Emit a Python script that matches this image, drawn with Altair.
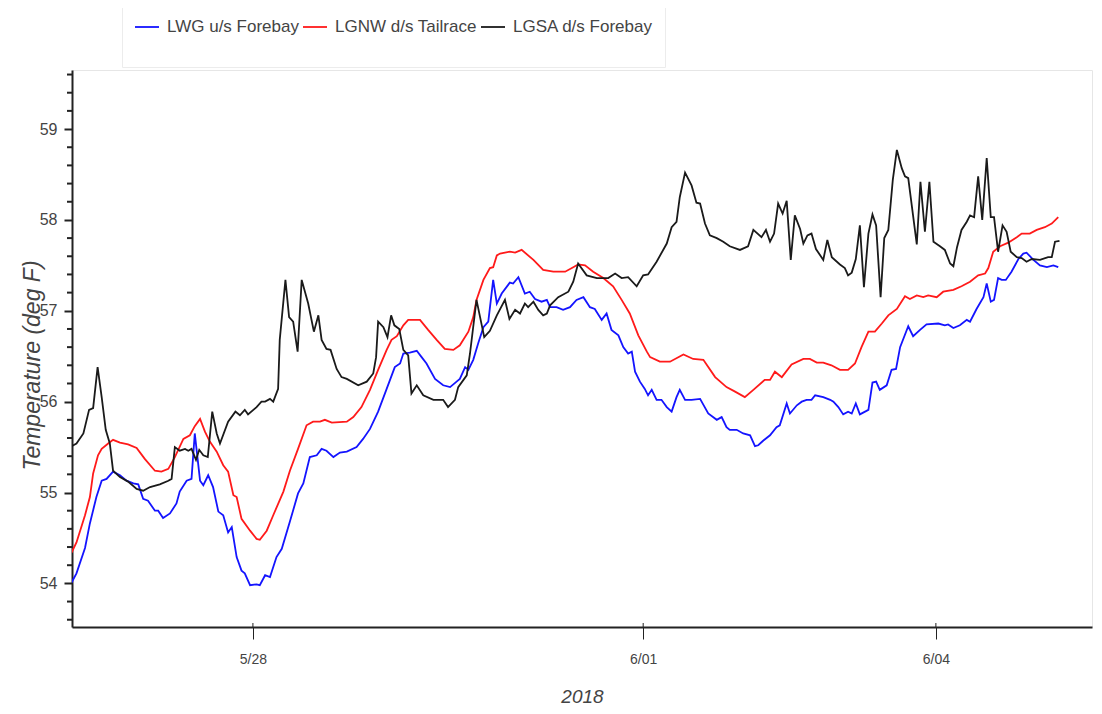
import altair as alt
import pandas as pd

# ---- data (hours after 2018-05-28 00:00, temperature deg F) ----
lwg_hours = [-44.6, -43.4, -41.3, -40.1, -38.5, -37.2, -36.0, -34.4, -32.7, -31.1, -29.4, -28.2, -27.0, -25.8,
             -24.1, -23.3, -22.1, -20.4, -18.8, -18.0, -16.3, -15.1, -14.3, -13.0, -12.2, -11.0, -9.8, -8.5,
             -7.3, -6.1, -5.2, -4.0, -2.8, -2.0, -0.7, 0.9, 1.7, 3.0, 4.2, 5.8, 7.1, 9.1, 11.1, 12.4, 14.0,
             15.7, 16.9, 18.1, 19.8, 21.4, 23.1, 25.5, 27.1, 28.8, 30.8, 32.9, 34.9, 36.2, 37.0, 38.6, 40.3,
             41.5, 42.7, 44.8, 46.8, 48.5, 50.1, 50.9, 52.2, 53.0, 54.2, 55.4, 56.7, 57.9, 59.1, 60.0, 61.2,
             63.2, 64.0, 65.3, 66.9, 68.1, 69.4, 71.0, 72.3, 73.1, 74.7, 76.3, 78.0, 79.6, 81.3, 82.9, 84.1,
             85.8, 87.0, 88.2, 89.9, 91.1, 92.3, 93.2, 94.0, 95.2, 96.4, 97.2, 98.1, 99.3, 100.5, 101.8,
             103.0, 104.2, 105.0, 106.3, 107.9, 110.0, 112.0, 114.1, 115.3, 116.5, 117.3, 119.0, 120.6,
             122.3, 123.5, 124.3, 125.5, 127.2, 128.8, 129.6, 131.3, 132.1, 133.8, 135.0, 136.2, 137.4,
             138.3, 140.3, 142.0, 142.8, 144.0, 145.2, 146.4, 147.3, 148.3, 149.3, 151.4, 152.4, 153.3,
             154.2, 155.9, 157.1, 158.2, 159.2, 161.2, 162.4, 164.1, 165.7, 168.6, 170.2, 171.0, 172.3,
             173.9, 175.6, 176.4, 178.0, 179.7, 180.5, 181.5, 182.3, 183.3, 184.2, 185.2, 186.6, 188.3,
             189.5, 190.3, 192.0, 193.6, 195.3, 196.9, 198.1]
lwg_temp = [54.01, 54.11, 54.39, 54.66, 54.95, 55.13, 55.15, 55.23, 55.19, 55.13, 55.10, 55.09, 54.93, 54.91,
            54.80, 54.80, 54.72, 54.77, 54.88, 55.01, 55.13, 55.15, 55.65, 55.13, 55.08, 55.19, 55.06, 54.79,
            54.75, 54.56, 54.62, 54.29, 54.14, 54.11, 53.98, 53.99, 53.98, 54.09, 54.07, 54.29, 54.38, 54.68,
            54.99, 55.10, 55.39, 55.41, 55.48, 55.46, 55.39, 55.44, 55.45, 55.50, 55.59, 55.70, 55.89, 56.14,
            56.38, 56.42, 56.53, 56.54, 56.56, 56.49, 56.42, 56.25, 56.18, 56.16, 56.22, 56.25, 56.38, 56.35,
            56.46, 56.64, 56.82, 56.88, 57.34, 57.08, 57.19, 57.31, 57.30, 57.37, 57.19, 57.21, 57.13, 57.10,
            57.12, 57.04, 57.04, 57.01, 57.04, 57.12, 57.15, 57.04, 57.02, 56.90, 56.97, 56.79, 56.73, 56.60,
            56.53, 56.55, 56.33, 56.22, 56.14, 56.07, 56.13, 56.02, 56.02, 55.94, 55.89, 56.05, 56.13, 56.02,
            56.02, 56.03, 55.87, 55.80, 55.83, 55.72, 55.69, 55.69, 55.65, 55.63, 55.51, 55.52, 55.57, 55.63,
            55.72, 55.74, 55.98, 55.87, 55.96, 56.00, 56.02, 56.02, 56.07, 56.05, 56.02, 56.00, 55.94, 55.86,
            55.89, 55.87, 55.98, 55.86, 55.91, 56.21, 56.22, 56.13, 56.18, 56.35, 56.36, 56.60, 56.83, 56.72,
            56.79, 56.85, 56.86, 56.84, 56.85, 56.81, 56.84, 56.90, 56.88, 57.02, 57.15, 57.30, 57.10, 57.12,
            57.36, 57.34, 57.34, 57.43, 57.57, 57.63, 57.64, 57.56, 57.50, 57.48, 57.50, 57.48]

lgnw_hours = [-44.6, -43.4, -41.3, -40.1, -39.3, -38.1, -37.2, -35.6, -34.4, -32.7, -30.7, -28.6, -26.6, -24.1,
              -22.5, -20.8, -19.2, -17.1, -15.5, -14.3, -13.0, -11.8, -10.6, -8.9, -7.3, -6.1, -4.8, -4.0,
              -2.8, -0.7, 0.9, 1.7, 3.4, 5.0, 7.5, 9.1, 11.1, 13.2, 14.8, 16.5, 17.7, 19.4, 23.1, 24.7, 26.7,
              28.8, 30.8, 32.9, 34.1, 35.4, 37.0, 38.2, 41.1, 43.1, 45.2, 47.2, 49.3, 50.9, 53.0, 54.2, 55.0,
              56.7, 58.3, 59.1, 60.0, 60.8, 63.2, 64.5, 66.1, 69.0, 71.4, 73.9, 76.8, 78.8, 80.0, 81.7, 83.7,
              86.2, 88.6, 90.7, 92.7, 94.8, 96.9, 97.7, 100.1, 102.6, 105.9, 108.3, 110.8, 113.7, 116.5, 118.6,
              121.0, 123.1, 125.9, 127.2, 128.4, 130.1, 132.5, 135.4, 137.0, 138.7, 140.3, 142.3, 144.4, 146.4,
              148.1, 149.7, 151.4, 153.0, 154.7, 156.3, 158.4, 160.4, 161.6, 163.3, 164.9, 166.1, 168.2, 169.8,
              172.3, 174.3, 176.4, 178.4, 180.1, 180.9, 182.1, 183.8, 185.8, 187.9, 189.1, 191.1, 192.8, 194.8,
              196.5, 198.1]
lgnw_temp = [54.34, 54.45, 54.75, 54.95, 55.21, 55.41, 55.48, 55.54, 55.58, 55.55, 55.53, 55.49, 55.37, 55.24,
             55.23, 55.26, 55.39, 55.59, 55.63, 55.73, 55.81, 55.67, 55.56, 55.45, 55.30, 55.23, 54.97, 54.95,
             54.71, 54.58, 54.49, 54.48, 54.58, 54.75, 55.01, 55.24, 55.48, 55.74, 55.78, 55.78, 55.80, 55.77,
             55.78, 55.83, 55.94, 56.13, 56.35, 56.57, 56.68, 56.72, 56.84, 56.90, 56.90, 56.79, 56.68, 56.58,
             56.57, 56.62, 56.77, 56.93, 57.12, 57.34, 57.47, 57.48, 57.61, 57.63, 57.65, 57.64, 57.67, 57.56,
             57.45, 57.43, 57.43, 57.48, 57.51, 57.50, 57.43, 57.36, 57.27, 57.12, 56.97, 56.73, 56.55, 56.49,
             56.44, 56.44, 56.52, 56.47, 56.46, 56.27, 56.16, 56.11, 56.05, 56.13, 56.24, 56.24, 56.33, 56.27,
             56.41, 56.47, 56.47, 56.43, 56.43, 56.40, 56.35, 56.35, 56.42, 56.60, 56.77, 56.77, 56.86, 56.95,
             57.02, 57.16, 57.13, 57.17, 57.15, 57.17, 57.15, 57.21, 57.23, 57.27, 57.32, 57.39, 57.41, 57.47,
             57.65, 57.71, 57.75, 57.81, 57.85, 57.85, 57.89, 57.92, 57.96, 58.03]

lgsa_hours = [-44.6, -43.4, -41.7, -40.3, -39.3, -38.2, -37.2, -36.2, -35.2, -34.4, -32.7, -30.7, -28.6, -27.0,
              -25.3, -22.9, -20.8, -20.0, -19.2, -18.0, -16.7, -15.9, -15.1, -14.0, -13.2, -12.2, -11.1, -10.0,
              -8.9, -8.1, -6.1, -4.3, -3.2, -2.0, -1.2, 0.9, 2.1, 3.0, 4.2, 5.0, 6.2, 6.6, 8.0, 8.9, 9.9, 11.0,
              12.0, 13.6, 15.0, 16.1, 16.9, 18.1, 19.1, 20.6, 21.8, 23.1, 25.9, 28.0, 29.6, 30.3, 30.8, 32.1,
              33.1, 34.0, 34.8, 36.0, 37.0, 38.2, 39.0, 40.3, 41.9, 44.4, 46.8, 48.0, 49.7, 50.5, 52.6, 53.4,
              55.0, 56.9, 58.3, 60.0, 62.0, 63.1, 64.5, 65.7, 66.9, 67.7, 69.0, 70.2, 71.4, 72.3, 73.1, 75.1,
              77.6, 78.8, 80.0, 82.1, 84.6, 87.4, 89.1, 90.7, 92.3, 94.4, 96.0, 97.2, 99.3, 101.8, 103.0, 104.2,
              105.0, 106.3, 107.9, 109.1, 110.0, 111.2, 112.4, 114.1, 115.7, 117.3, 119.8, 121.8, 123.1, 125.1,
              126.2, 127.2, 128.2, 129.2, 130.3, 131.3, 132.3, 133.3, 134.6, 135.4, 136.4, 137.4, 138.5, 140.3,
              141.3, 142.4, 144.4, 145.6, 146.4, 147.3, 148.3, 149.3, 150.3, 151.4, 152.4, 153.3, 154.4, 155.3,
              156.3, 157.4, 158.4, 159.6, 160.4, 161.2, 163.3, 164.2, 165.3, 166.4, 167.4, 169.0, 170.2, 171.5,
              172.3, 173.2, 174.3, 175.6, 176.4, 177.4, 178.4, 179.4, 180.5, 181.5, 182.3, 183.3, 184.4, 185.4,
              186.4, 187.9, 189.1, 190.3, 191.6, 193.6, 195.6, 196.5, 197.3, 198.4]
lgsa_temp = [55.51, 55.54, 55.65, 55.91, 55.93, 56.38, 56.05, 55.69, 55.54, 55.24, 55.17, 55.12, 55.04, 55.02,
             55.06, 55.09, 55.13, 55.15, 55.50, 55.46, 55.48, 55.46, 55.48, 55.36, 55.47, 55.41, 55.39, 55.89,
             55.65, 55.54, 55.78, 55.89, 55.85, 55.91, 55.86, 55.94, 56.00, 56.00, 56.03, 56.00, 56.14, 56.68,
             57.34, 56.93, 56.88, 56.55, 57.34, 57.08, 56.77, 56.95, 56.68, 56.58, 56.57, 56.36, 56.27, 56.25,
             56.18, 56.22, 56.31, 56.49, 56.88, 56.82, 56.71, 56.95, 56.84, 56.80, 56.57, 56.51, 56.09, 56.18,
             56.07, 56.02, 56.02, 55.94, 56.02, 56.16, 56.29, 56.53, 57.12, 56.71, 56.78, 56.95, 57.12, 56.91,
             57.01, 56.97, 57.08, 57.04, 57.10, 57.01, 56.95, 56.97, 57.06, 57.15, 57.21, 57.32, 57.52, 57.39,
             57.36, 57.36, 57.41, 57.36, 57.37, 57.27, 57.39, 57.40, 57.54, 57.74, 57.92, 57.98, 58.25, 58.52,
             58.38, 58.19, 58.18, 57.96, 57.83, 57.80, 57.76, 57.71, 57.67, 57.71, 57.89, 57.81, 57.89, 57.76,
             57.85, 58.18, 58.07, 58.21, 57.56, 58.05, 57.90, 57.74, 57.83, 57.85, 57.68, 57.56, 57.78, 57.59,
             57.51, 57.47, 57.39, 57.42, 57.57, 57.94, 57.26, 57.85, 58.06, 57.94, 57.15, 57.80, 57.89, 58.44,
             58.77, 58.57, 58.48, 58.46, 57.73, 58.42, 57.87, 58.42, 57.76, 57.71, 57.67, 57.52, 57.49, 57.70,
             57.89, 57.98, 58.05, 58.03, 58.48, 58.00, 58.68, 58.03, 58.03, 57.65, 57.94, 57.87, 57.65, 57.59,
             57.58, 57.54, 57.57, 57.56, 57.59, 57.59, 57.76, 57.77]

series_names = ["LWG u/s Forebay", "LGNW d/s Tailrace", "LGSA d/s Forebay"]
series_colors = ["#1414ff", "#ff1a1a", "#1a1a1a"]
series_widths = [1.8, 1.8, 1.5]

# axis tick positions
x_tick_dates = ["2018-05-28T00:00:00", "2018-06-01T00:00:00", "2018-06-04T00:00:00"]
y_major = [54, 55, 56, 57, 58, 59]
y_minor = [53.6, 53.8, 54.2, 54.4, 54.6, 54.8, 55.2, 55.4, 55.6, 55.8, 56.2, 56.4, 56.6, 56.8,
           57.2, 57.4, 57.6, 57.8, 58.2, 58.4, 58.6, 58.8, 59.2, 59.4, 59.6]

base = pd.Timestamp("2018-05-28")


def to_iso(hours):
    return [(base + pd.Timedelta(hours=h)).strftime("%Y-%m-%dT%H:%M:%S") for h in hours]


frames = []
for name, hrs, vals in [(series_names[0], lwg_hours, lwg_temp),
                        (series_names[1], lgnw_hours, lgnw_temp),
                        (series_names[2], lgsa_hours, lgsa_temp)]:
    frames.append(pd.DataFrame({"time": to_iso(hrs), "temp": vals, "series": name}))
df = pd.concat(frames, ignore_index=True)

minor_df = pd.DataFrame({"temp": y_minor})
xt_df = pd.DataFrame({"time": x_tick_dates})

W, H = 1020, 557
FONT = "Liberation Sans, Arial, Helvetica, sans-serif"

x_scale = alt.Scale(domain=[alt.DateTime(year=2018, month=5, date=26, hours=3, minutes=30),
                            alt.DateTime(year=2018, month=6, date=5, hours=14, minutes=24)])
y_scale = alt.Scale(domain=[53.52, 59.65], zero=False, nice=False)

x_axis = alt.Axis(
    values=[alt.DateTime(year=2018, month=5, date=28), alt.DateTime(year=2018, month=6, date=1),
            alt.DateTime(year=2018, month=6, date=4)],
    format="%-m/%d", grid=False, tickSize=12, tickColor="#222", tickWidth=1,
    labelFont=FONT, labelFontSize=14, labelColor="#444", labelPadding=13,
    domainColor="#222", domainWidth=2,
    title="2018", titleFont=FONT, titleFontSize=19, titleFontStyle="italic",
    titleFontWeight="normal", titleColor="#444", titlePadding=21,
)
y_axis = alt.Axis(
    values=y_major, format="d", grid=False, tickSize=8, tickColor="#222", tickWidth=2,
    labelFont=FONT, labelFontSize=16, labelColor="#444", labelPadding=7,
    domainColor="#222", domainWidth=2,
    title="Temperature (deg F)", titleFont=FONT, titleFontSize=23,
    titleFontStyle="italic", titleFontWeight="normal", titleColor="#444",
    titleX=-40, titleY=295, titleAngle=270, titleAlign="center", titleBaseline="middle",
)

lines = alt.Chart(df).mark_line(clip=True).encode(
    x=alt.X("time:T", scale=x_scale, axis=x_axis, title="2018"),
    y=alt.Y("temp:Q", scale=y_scale, axis=y_axis, title="Temperature (deg F)"),
    color=alt.Color("series:N", scale=alt.Scale(domain=series_names, range=series_colors),
                    legend=alt.Legend(
                        orient="none", legendX=50, legendY=-68, direction="horizontal",
                        title=" ", titleOrient="bottom", titleFontSize=6, titlePadding=14,
                        symbolType="stroke", symbolSize=576, symbolStrokeWidth=3,
                        labelFont=FONT, labelFontSize=17, labelColor="#444", labelOffset=7,
                        labelLimit=400, columnPadding=0, padding=12, strokeColor="#ececec",
                        fillColor="white", cornerRadius=0)),
    strokeWidth=alt.StrokeWidth("series:N", scale=alt.Scale(domain=series_names, range=series_widths),
                                legend=None),
    order=alt.Order("series_order:Q"),
).transform_calculate(
    series_order="indexof(['LWG u/s Forebay','LGNW d/s Tailrace','LGSA d/s Forebay'], datum.series)"
)

minor_ticks = alt.Chart(minor_df).mark_rule(color="#222", strokeWidth=2).encode(
    y=alt.Y("temp:Q", scale=y_scale, title="Temperature (deg F)"),
    x=alt.value(-5), x2=alt.value(0),
)

x_inner_ticks = alt.Chart(xt_df).mark_rule(color="#222", strokeWidth=1).encode(
    x=alt.X("time:T", scale=x_scale, title="2018"),
    y=alt.value(H - 4), y2=alt.value(H),
)

chart = alt.layer(lines, minor_ticks, x_inner_ticks).properties(
    width=W, height=H,
    autosize=alt.AutoSizeParams(type="none"),
    padding={"left": 64, "top": 62, "right": 2, "bottom": 80},
    background="white",
).configure_view(stroke="#e6e6e6", strokeWidth=1)

chart.save("out.html", embed_options={"renderer": "svg", "actions": False})
